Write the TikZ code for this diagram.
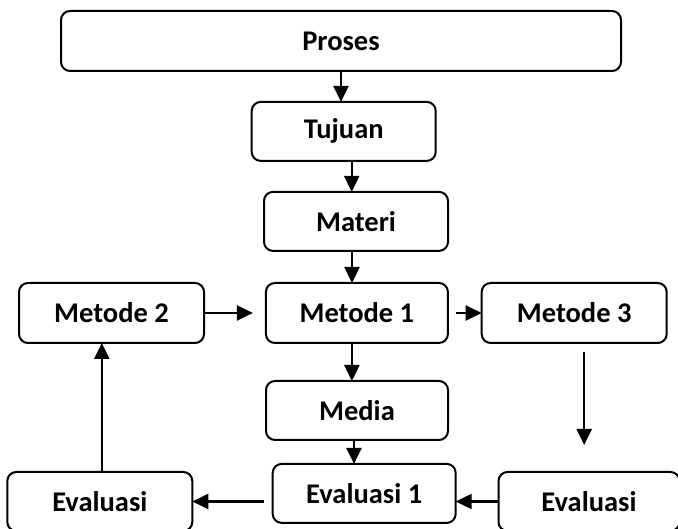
\documentclass[tikz,border=0pt]{standalone}
\usepackage{fontspec}
\setmainfont{Carlito}
\usetikzlibrary{arrows.meta,calc}
\tikzset{
  box/.style={draw, line width=2pt, rounded corners=9pt, inner sep=0pt, outer sep=0pt,
    font=\fontsize{28.5}{32}\selectfont\bfseries, align=center},
  arr/.style={line width=2.3pt, -{Triangle[length=16pt,width=15pt]}}
}
\begin{document}
\begin{tikzpicture}[x=1pt,y=-1pt]
\useasboundingbox (0,0) rectangle (678,529);
\node[box, minimum width=560pt, minimum height=60pt] (pro) at (341,41) {Proses};
\node[box, minimum width=184pt, minimum height=59pt] (tuj) at (343.7,131.4) {Tujuan};
\node[box, minimum width=184pt, minimum height=59pt] (mat) at (356,221.4) {Materi};
\node[box, minimum width=182pt, minimum height=60pt] (m1) at (356.9,313) {Metode 1};
\node[box, minimum width=185pt, minimum height=60pt] (m2) at (111.5,313) {Metode 2};
\node[box, minimum width=185pt, minimum height=60pt] (m3) at (574.2,313) {Metode 3};
\node[box, minimum width=182pt, minimum height=59pt] (med) at (357,410.5) {Media};
\node[box, minimum width=183pt, minimum height=59pt] (e1) at (364.2,493.4) {Evaluasi 1};
\node[box, minimum width=185pt, minimum height=59pt] (el) at (99.8,501.5) {Evaluasi};
\node[box, minimum width=181pt, minimum height=59pt] (er) at (589,501.5) {Evaluasi};
\draw[arr] (pro.south) -- (pro.south |- tuj.north);
\draw[arr] ([xshift=8pt]tuj.south) -- ([xshift=8pt]tuj.south |- mat.north);
\draw[arr] ([xshift=-4pt]mat.south) -- ([xshift=-4pt]mat.south |- m1.north);
\draw[arr] (m2.east) -- ([xshift=-13pt]m1.west);
\draw[arr] ([xshift=8pt]m1.east) -- (m3.west);
\draw[arr] ([xshift=-5pt]m1.south) -- ([xshift=-5pt]m1.south |- med.north);
\draw[arr] ([xshift=-3pt]med.south) -- ([xshift=-3pt]med.south |- e1.north);
\coordinate (d1) at ([xshift=10pt,yshift=-9pt]m3.south);
\coordinate (d2) at ($(d1)+(0,93)$);
\draw[arr] (d1) -- (d2);
\draw[arr] (er.west) -- (er.west -| e1.east);
\draw[arr] ([xshift=-9pt]e1.west |- el.east) -- (el.east);
\draw[arr] ([xshift=2pt]el.north) -- ([xshift=2pt]el.north |- m2.south);
\end{tikzpicture}
\end{document}
